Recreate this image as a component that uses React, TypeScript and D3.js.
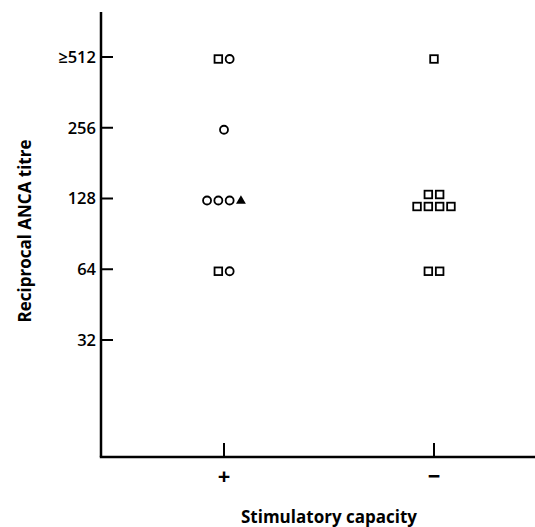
import React from "react";
import * as d3 from "d3";

const groups = ["+", "−"];
const titreTicks = [32, 64, 128, 256, 512];
const titreTickLabels = ["32", "64", "128", "256", "≥512"];

// Each observation: group, titre, marker symbol
const pointGroup = ["+", "+", "+", "+", "+", "+", "+", "+", "+",
  "−", "−", "−", "−", "−", "−", "−", "−", "−"];
const pointTitre = [512, 512, 256, 128, 128, 128, 128, 64, 64,
  512, 128, 128, 128, 128, 128, 128, 64, 64];
const pointShape = ["square", "circle", "circle", "circle", "circle", "circle", "triangle", "square", "circle",
  "square", "square", "square", "square", "square", "square", "square", "square", "square"];

const W = 535;
const H = 527;

export default function App() {
  const axisX = 101;
  const axisY = 457;
  const y = d3.scaleLog().base(2).domain([32, 512]).range([340, 57]);
  const x = d3.scalePoint().domain(groups).range([224, 434]);

  // layout markers within each (group, titre) cell: rows of up to 4, bottom row filled first
  const spacing = 11.3;
  const rowGap = 12;
  const maxPerRow = 4;
  const cells = d3.group(
    pointGroup.map((g, i) => ({ g, t: pointTitre[i], s: pointShape[i] })),
    (d) => d.g + "|" + d.t
  );
  const marks: { cx: number; cy: number; s: string }[] = [];
  cells.forEach((items) => {
    const n = items.length;
    const rows: typeof items[] = [];
    if (n <= maxPerRow) rows.push(items);
    else {
      rows.push(items.slice(n - maxPerRow)); // bottom row
      rows.push(items.slice(0, n - maxPerRow)); // top row
    }
    const nRows = rows.length;
    rows.forEach((row, ri) => {
      const baseY = y(row[0].t) + 2 + (nRows > 1 ? (ri === 0 ? rowGap / 2 : -rowGap / 2) : 0);
      row.forEach((d, i) => {
        const cx = x(d.g)! + (i - (row.length - 1) / 2) * spacing;
        marks.push({ cx, cy: baseY, s: d.s });
      });
    });
  });

  const font = "'Open Sans', 'Liberation Sans', Arial, sans-serif";

  return (
    <svg width={W} height={H} style={{ position: "absolute", left: 0, top: 0, background: "#fff" }}>
      <rect width={W} height={H} fill="#fff" />
      {/* axes */}
      <line x1={axisX} y1={12} x2={axisX} y2={axisY} stroke="#000" strokeWidth={2.5} />
      <line x1={axisX - 1.2} y1={axisY} x2={W} y2={axisY} stroke="#000" strokeWidth={2.5} />
      {titreTicks.map((t, i) => (
        <g key={t}>
          <line x1={axisX} x2={axisX + 12} y1={y(t)} y2={y(t)} stroke="#000" strokeWidth={2} />
          <text x={96} y={y(t)} dy="0.36em" textAnchor="end" fontFamily={font} fontWeight={600} fontSize={16.5} fill="#000">
            {titreTickLabels[i]}
          </text>
        </g>
      ))}
      {groups.map((g) => (
        <g key={g}>
          <line x1={x(g)} x2={x(g)} y1={axisY} y2={axisY - 14} stroke="#000" strokeWidth={2} />
          <text x={x(g)} y={476} dy="0.36em" textAnchor="middle" fontFamily={font} fontWeight={700} fontSize={22} fill="#000">
            {g}
          </text>
        </g>
      ))}
      <text
        transform={`translate(31,231) rotate(-90)`}
        textAnchor="middle"
        fontFamily={font}
        fontWeight={700}
        fontSize={17}
        fill="#000"
      >
        Reciprocal ANCA titre
      </text>
      <text x={329} y={523} textAnchor="middle" fontFamily={font} fontWeight={700} fontSize={17} fill="#000">
        Stimulatory capacity
      </text>
      {/* markers */}
      {marks.map((m, i) => {
        if (m.s === "square")
          return <rect key={i} x={m.cx - 3.8} y={m.cy - 3.8} width={7.6} height={7.6} fill="none" stroke="#000" strokeWidth={1.8} />;
        if (m.s === "circle")
          return <circle key={i} cx={m.cx} cy={m.cy} r={4} fill="none" stroke="#000" strokeWidth={1.8} />;
        const path = d3.symbol(d3.symbolTriangle, 42)()!;
        return <path key={i} d={path} transform={`translate(${m.cx},${m.cy + 0.5})`} fill="#000" />;
      })}
    </svg>
  );
}
